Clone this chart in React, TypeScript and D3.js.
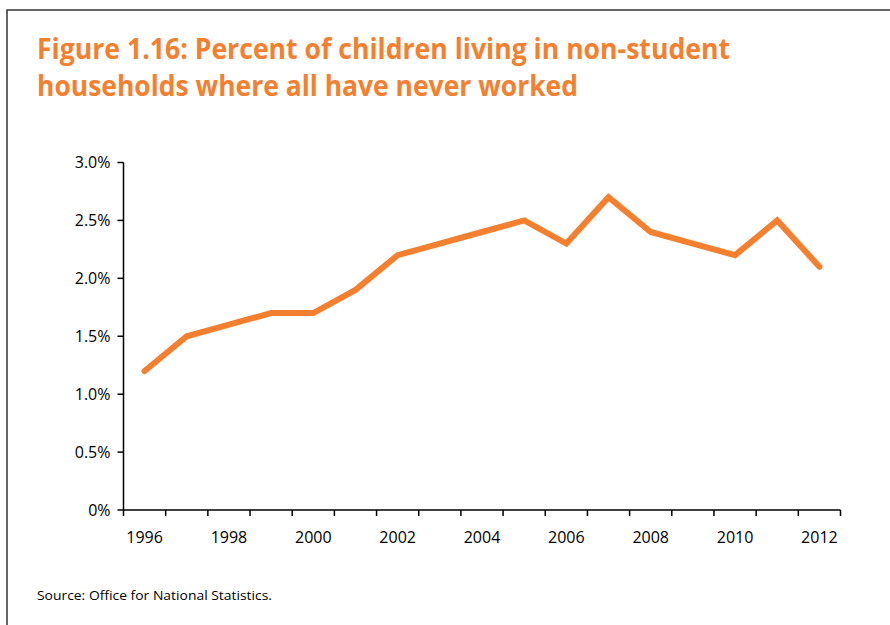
import React, { useEffect, useRef } from "react";
import * as d3 from "d3";

const years = [1996, 1997, 1998, 1999, 2000, 2001, 2002, 2003, 2004, 2005, 2006, 2007, 2008, 2009, 2010, 2011, 2012];
const values = [1.2, 1.5, 1.6, 1.7, 1.7, 1.9, 2.2, 2.3, 2.4, 2.5, 2.3, 2.7, 2.4, 2.3, 2.2, 2.5, 2.1];
const yTicks = [0, 0.5, 1.0, 1.5, 2.0, 2.5, 3.0];
const xLabelYears = [1996, 1998, 2000, 2002, 2004, 2006, 2008, 2010, 2012];
const titleLines = ["Figure 1.16: Percent of children living in non-student", "households where all have never worked"];
const sourceText = "Source: Office for National Statistics.";

const W = 890;
const H = 625;
const ORANGE = "#F4802F";
const FONT = "'Open Sans', 'Liberation Sans', sans-serif";

export default function App() {
  const ref = useRef<SVGSVGElement>(null);

  useEffect(() => {
    const svg = d3.select(ref.current);
    svg.selectAll("*").remove();

    const left = 123.5, right = 840.5, top = 162.5, bottom = 510;
    const x = d3.scaleBand<number>().domain(years).range([left, right]);
    const y = d3.scaleLinear().domain([0, 3]).range([bottom, top]);

    // frame
    svg.append("path")
      .attr("d", `M7,${H + 5} V10 H${W + 5}`)
      .attr("fill", "none")
      .attr("stroke", "#333")
      .attr("stroke-width", 1.5);

    // title
    const titleWidths = [693, 541];
    titleLines.forEach((t, i) => {
      svg.append("text")
        .attr("x", 37)
        .attr("y", 59 + i * 37)
        .attr("fill", ORANGE)
        .attr("font-family", FONT)
        .attr("font-weight", "bold")
        .attr("font-size", 28.5)
        .attr("textLength", titleWidths[i])
        .attr("lengthAdjust", "spacingAndGlyphs")
        .text(t);
    });

    // y axis
    const g = svg.append("g");
    g.append("line").attr("x1", left).attr("x2", left).attr("y1", top).attr("y2", bottom)
      .attr("stroke", "#000").attr("stroke-width", 1.5);
    yTicks.forEach((v) => {
      g.append("line").attr("x1", left - 6).attr("x2", left).attr("y1", y(v)).attr("y2", y(v))
        .attr("stroke", "#000").attr("stroke-width", 1.5);
      g.append("text")
        .attr("x", left - 13)
        .attr("y", y(v))
        .attr("dy", "0.35em")
        .attr("text-anchor", "end")
        .attr("font-family", FONT)
        .attr("font-size", 16)
        .attr("fill", "#000")
        .text(v === 0 ? "0%" : d3.format(".1f")(v) + "%");
    });

    // x axis
    g.append("line").attr("x1", left).attr("x2", right).attr("y1", bottom).attr("y2", bottom)
      .attr("stroke", "#000").attr("stroke-width", 1.5);
    const edges = years.map((yr) => x(yr) as number).concat([right]);
    edges.forEach((ex) => {
      g.append("line").attr("x1", ex).attr("x2", ex).attr("y1", bottom).attr("y2", bottom + 6)
        .attr("stroke", "#000").attr("stroke-width", 1.5);
    });
    xLabelYears.forEach((yr) => {
      g.append("text")
        .attr("x", (x(yr) as number) + x.bandwidth() / 2)
        .attr("y", 543)
        .attr("text-anchor", "middle")
        .attr("font-family", FONT)
        .attr("font-size", 16)
        .attr("fill", "#000")
        .text(String(yr));
    });

    // line
    const line = d3.line<number>()
      .x((_, i) => (x(years[i]) as number) + x.bandwidth() / 2)
      .y((d) => y(d));
    svg.append("path")
      .attr("d", line(values))
      .attr("fill", "none")
      .attr("stroke", ORANGE)
      .attr("stroke-width", 6)
      .attr("stroke-linecap", "round")
      .attr("stroke-linejoin", "miter");

    // source
    svg.append("text")
      .attr("x", 37)
      .attr("y", 600)
      .attr("font-family", FONT)
      .attr("font-size", 12.5)
      .attr("fill", "#000")
      .attr("textLength", 235)
      .attr("lengthAdjust", "spacingAndGlyphs")
      .text(sourceText);
  }, []);

  return (
    <svg
      ref={ref}
      width={W}
      height={H}
      style={{ position: "absolute", left: 0, top: 0, background: "#fff" }}
    />
  );
}
